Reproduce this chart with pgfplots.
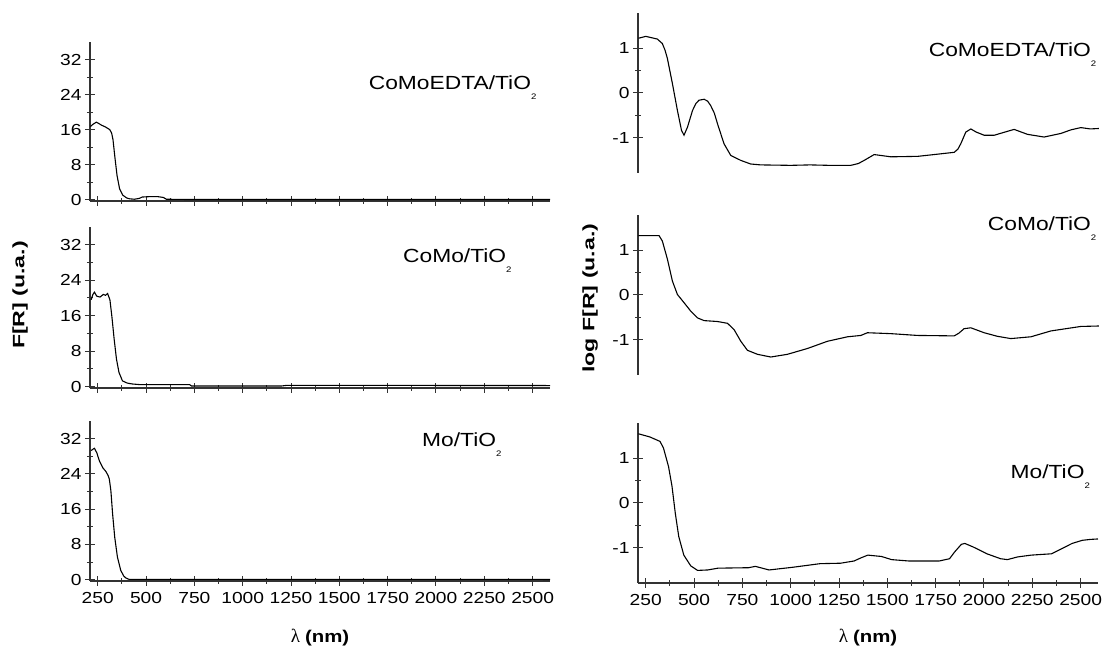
\documentclass[border=0pt]{standalone}
\usepackage{pgfplots}
\pgfplotsset{compat=1.18}
\usepackage{fontspec}
\setmainfont{Liberation Sans}[FakeStretch=1.2]
\newfontfamily\ylfont{Liberation Sans}[FakeStretch=1.4]
\newfontfamily\lamfont{Liberation Serif}
\newcommand{\sub}[1]{\raisebox{-10pt}{\fontsize{8}{8}\selectfont #1}}
\newcommand{\lamlabel}{{\lamfont\fontsize{19}{20}\selectfont λ}\hspace{5pt}{\bfseries\fontsize{17}{20}\selectfont (nm)}}
\tikzset{plab/.style={anchor=base east, font=\fontsize{19}{22}\selectfont}}
\pgfplotsset{
 base/.style={scale only axis, width=460pt, height=160pt, xmin=210, xmax=2590, anchor=south west,
   tick align=outside, major tick length=10pt, minor tick length=6pt,
   every tick/.style={black!80, line width=1pt},
   xtick={250,500,...,2500}, minor x tick num=1,
   tick label style={font=\fontsize{16}{18}\selectfont},
   xticklabel style={yshift=-3pt},
   /pgf/number format/assume math mode=true,
   /pgf/number format/1000 sep={},
   clip=false,
 },
 noarrow/.style={axis line style={-, black!80, line width=1.1pt},
   every outer x axis line/.append style={-}, every outer y axis line/.append style={-},
   every inner x axis line/.append style={-}, every inner y axis line/.append style={-}},
 lft/.style={base, axis x line=bottom, axis y line=left, ymin=-0.3, ymax=36, ytick={0,8,...,32}, minor y tick num=1},
 rgt/.style={base, axis y line=left, ymin=-1.78, ymax=1.78, ytick={-1,0,1}, minor y tick num=1},
 curve/.style={black, line width=1.1pt, mark=none},
}
\begin{document}
\begin{tikzpicture}
\useasboundingbox (0,0) rectangle (1104pt,655pt);
% ---------- left top
\begin{axis}[lft, at={(90pt,454pt)}, height=159pt, xticklabels={}, noarrow]
\addplot[curve] coordinates {(212,16.7) (225,17.2) (243,17.7) (255,17.4) (270,17.0) (290,16.6) (312,16.0) (322,15.2) (329,13.7) (338,10) (350,5.5) (363,2.5) (380,1.0) (400,0.4) (414,0.2) (440,0.1) (466,0.3) (480,0.6) (520,0.7) (560,0.7) (590,0.5) (605,0.1) (700,0.05) (2590,0.05)};
\node[plab] at (rel axis cs:0.978,0.7) {CoMoEDTA/TiO\sub{2}};
\end{axis}
% ---------- left middle
\begin{axis}[lft, at={(90pt,267pt)}, height=161pt, xticklabels={}, noarrow,
  ylabel={\ylfont\bfseries\fontsize{16.5}{18}\selectfont F[R] (u.a.)},
  ylabel style={at={(axis description cs:-0.152,0.578)}, anchor=center}]
\addplot[curve] coordinates {(216,19.6) (225,20.8) (233,21.3) (245,20.4) (262,20.2) (279,20.8) (290,20.6) (301,21.0) (313,19.6) (323,15.9) (335,10.7) (347,6.2) (360,3.2) (378,1.3) (403,0.8) (430,0.6) (471,0.45) (726,0.45) (735,0.15) (1200,0.15) (1230,0.3) (1300,0.3) (2590,0.25)};
\node[plab] at (rel axis cs:0.924,0.78) {CoMo/TiO\sub{2}};
\end{axis}
% ---------- left bottom
\begin{axis}[lft, at={(90pt,74pt)}, height=160pt, noarrow,
  xlabel={\lamlabel},
  xlabel style={at={(axis description cs:0.5,-0.356)}, anchor=center}]
\addplot[curve] coordinates {(216,29.3) (225,29.6) (233,29.8) (245,28.8) (259,26.9) (276,25.4) (293,24.5) (305,23.5) (310,22.8) (318,20.2) (327,14.9) (338,9.6) (352,5.1) (369,2.1) (385,0.8) (395,0.4) (412,0.07) (2590,0.05)};
\node[plab] at (rel axis cs:0.902,0.84) {Mo/TiO\sub{2}};
\end{axis}
% ---------- right top
\begin{axis}[rgt, at={(638pt,482pt)}, axis x line=none, noarrow]
\addplot[curve] coordinates {(212,1.22) (224,1.23) (250,1.26) (280,1.23) (310,1.2) (336,1.1) (350,0.95) (362,0.77) (388,0.21) (414,-0.39) (435,-0.83) (448,-0.94) (466,-0.76) (492,-0.39) (510,-0.23) (526,-0.16) (552,-0.14) (570,-0.18) (586,-0.28) (605,-0.45) (621,-0.68) (655,-1.13) (690,-1.39) (742,-1.5) (793,-1.58) (845,-1.6) (1000,-1.61) (1100,-1.6) (1200,-1.61) (1311,-1.61) (1350,-1.57) (1380,-1.5) (1432,-1.37) (1518,-1.42) (1656,-1.41) (1742,-1.37) (1846,-1.32) (1865,-1.25) (1880,-1.13) (1906,-0.87) (1932,-0.8) (1960,-0.87) (2001,-0.94) (2053,-0.94) (2100,-0.88) (2156,-0.81) (2225,-0.92) (2311,-0.98) (2398,-0.9) (2450,-0.82) (2501,-0.77) (2550,-0.8) (2594,-0.79)};
\node[plab] at (rel axis cs:1.004,0.725) {CoMoEDTA/TiO\sub{2}};
\end{axis}
% ---------- right middle
\begin{axis}[rgt, at={(638pt,280pt)}, axis x line=none, noarrow,
  ylabel={\ylfont\bfseries\fontsize{16.5}{18}\selectfont log F[R] (u.a.)},
  ylabel style={at={(axis description cs:-0.104,0.48)}, anchor=center}]
\addplot[curve] coordinates {(212,1.32) (224,1.32) (319,1.32) (336,1.2) (362,0.8) (388,0.31) (414,0.01) (448,-0.17) (483,-0.36) (518,-0.51) (552,-0.57) (621,-0.59) (673,-0.63) (707,-0.77) (742,-1.03) (776,-1.23) (828,-1.32) (897,-1.38) (983,-1.32) (1087,-1.19) (1190,-1.03) (1294,-0.93) (1363,-0.9) (1397,-0.84) (1518,-0.86) (1656,-0.9) (1846,-0.91) (1870,-0.85) (1897,-0.75) (1932,-0.73) (2001,-0.84) (2070,-0.92) (2139,-0.97) (2243,-0.93) (2346,-0.8) (2501,-0.7) (2594,-0.69)};
\node[plab] at (rel axis cs:1.004,0.9) {CoMo/TiO\sub{2}};
\end{axis}
% ---------- right bottom
\begin{axis}[rgt, at={(638pt,72pt)}, axis x line=bottom, noarrow,
  xlabel={\lamlabel},
  xlabel style={at={(axis description cs:0.5,-0.344)}, anchor=center}]
\addplot[curve] coordinates {(212,1.54) (271,1.47) (324,1.37) (342,1.22) (368,0.81) (386,0.37) (403,-0.23) (421,-0.75) (447,-1.16) (483,-1.4) (518,-1.5) (571,-1.49) (624,-1.45) (782,-1.44) (817,-1.41) (888,-1.49) (1011,-1.43) (1152,-1.35) (1258,-1.34) (1328,-1.29) (1364,-1.22) (1399,-1.16) (1470,-1.19) (1522,-1.26) (1610,-1.29) (1769,-1.29) (1822,-1.24) (1848,-1.09) (1883,-0.92) (1901,-0.9) (1945,-0.98) (2015,-1.13) (2086,-1.24) (2121,-1.26) (2174,-1.2) (2244,-1.16) (2350,-1.13) (2456,-0.9) (2509,-0.83) (2552,-0.81) (2590,-0.8)};
\node[plab] at (rel axis cs:0.99,0.656) {Mo/TiO\sub{2}};
\end{axis}
\end{tikzpicture}
\end{document}
